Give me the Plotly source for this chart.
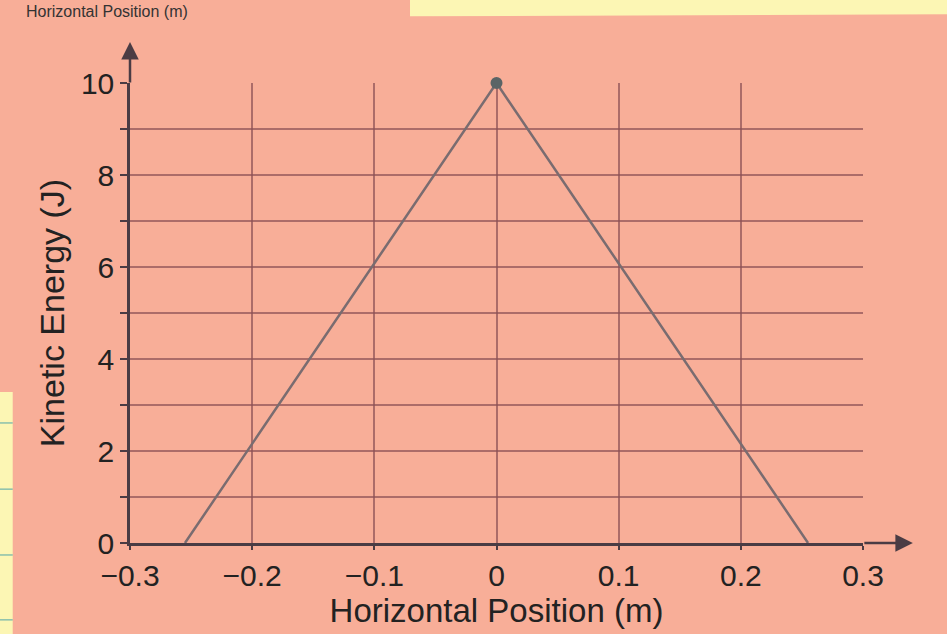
import plotly.graph_objects as go

# Data
position_m = [-0.255, 0.0, 0.255]
kinetic_energy_J = [0, 10, 0]
peak_x = [0.0]
peak_y = [10]

x_tick_vals = [-0.3, -0.2, -0.1, 0.0, 0.1, 0.2, 0.3]
x_tick_text = ["\u22120.3", "\u22120.2", "\u22120.1", "0", "0.1", "0.2", "0.3"]
y_tick_vals = [0, 1, 2, 3, 4, 5, 6, 7, 8, 9, 10]
y_tick_text = ["0", "", "2", "", "4", "", "6", "", "8", "", "10"]

PINK = "#F8AE98"
YELLOW = "#FCF6B4"
GRID = "rgba(140,80,85,0.7)"
AXIS = "#4a3c44"
FONT = "Liberation Sans, Arial, sans-serif"
TXT = "#222222"

fig = go.Figure()
fig.add_trace(go.Scatter(
    x=position_m, y=kinetic_energy_J, mode="lines",
    line=dict(color="#7a6c70", width=2.5), showlegend=False, cliponaxis=False))
fig.add_trace(go.Scatter(
    x=peak_x, y=peak_y, mode="markers",
    marker=dict(color="#5a6466", size=12), showlegend=False, cliponaxis=False))

fig.update_layout(
    width=947, height=634,
    margin=dict(l=130, r=84, t=83, b=91),
    paper_bgcolor=PINK, plot_bgcolor=PINK,
    font=dict(family=FONT, color=TXT, size=30),
    xaxis=dict(
        range=[-0.3, 0.3], tickvals=x_tick_vals, ticktext=x_tick_text,
        showgrid=True, gridcolor=GRID, gridwidth=1.8,
        showline=True, linecolor=AXIS, linewidth=2.5,
        ticks="outside", ticklen=4, tickwidth=2, tickcolor=AXIS,
        zeroline=False, tickfont=dict(size=30, family=FONT, color=TXT),
        title=dict(text="Horizontal Position (m)", font=dict(size=33, family=FONT, color=TXT), standoff=2),
    ),
    yaxis=dict(
        range=[0, 10], tickvals=y_tick_vals, ticktext=y_tick_text,
        showgrid=True, gridcolor=GRID, gridwidth=1.8,
        showline=True, linecolor=AXIS, linewidth=2.5,
        ticks="outside", ticklen=7, tickwidth=2, tickcolor=AXIS,
        zeroline=False, tickfont=dict(size=30, family=FONT, color=TXT),
        title=dict(text="Kinetic Energy (J)", font=dict(size=34, family=FONT, color=TXT), standoff=6),
    ),
    shapes=[
        # yellow notepaper behind (top right strip and left strip)
        dict(type="path", xref="paper", yref="paper",
             path="M 0.382 1.2 L 1.2 1.2 L 1.2 1.15 L 0.382 1.145 Z",
             fillcolor=YELLOW, line=dict(width=0), layer="below"),
        dict(type="rect", xref="paper", yref="paper",
             x0=-0.2, x1=-0.16, y0=-0.25, y1=0.328,
             fillcolor=YELLOW, line=dict(width=0), layer="below"),
    ] + [
        dict(type="line", xref="paper", yref="paper",
             x0=-0.2, x1=-0.16, y0=yv, y1=yv,
             line=dict(color="rgba(90,170,170,0.7)", width=1.5), layer="below")
        for yv in [0.261, 0.117, -0.026, -0.167]
    ],
    annotations=[
        dict(xref="paper", yref="paper", x=1.068, y=0, ax=-50, ay=0,
             text="", showarrow=True, arrowhead=2, arrowsize=1.4,
             arrowwidth=2.5, arrowcolor=AXIS),
        dict(xref="paper", yref="paper", x=0, y=1.089, ax=0, ay=42,
             text="", showarrow=True, arrowhead=2, arrowsize=1.4,
             arrowwidth=2.5, arrowcolor=AXIS),
        dict(xref="paper", yref="paper", x=-0.145, y=1.178,
             xanchor="left", yanchor="top", showarrow=False,
             text="Horizontal Position (m)",
             font=dict(size=16, family=FONT, color="#333333")),
    ],
)

fig.write_html("out.html", config={"displayModeBar": False},
               post_script="document.body.style.margin='0';")
